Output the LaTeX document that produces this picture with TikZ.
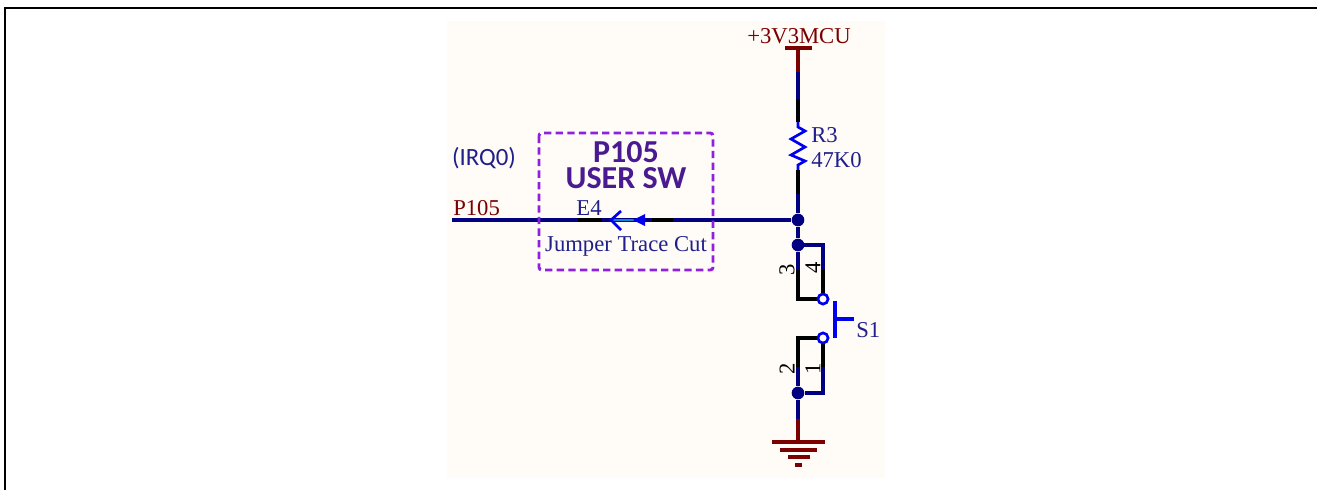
\documentclass[tikz,border=0pt]{standalone}
\usepackage{fontspec}
\setmainfont{Liberation Serif}
\newfontfamily\labelfont{Carlito}
\definecolor{bgcream}{HTML}{FFFBF6}
\definecolor{wireblue}{HTML}{000080}
\definecolor{pinblue}{HTML}{0000F0}
\definecolor{pwrred}{HTML}{7B0000}
\definecolor{boxpurple}{HTML}{9020E0}
\definecolor{txtblue}{HTML}{20208A}
\definecolor{titlepurple}{HTML}{4A1A90}
\tikzset{
  wire/.style={wireblue, line width=2.6pt},
  lead/.style={black, line width=2.6pt},
  pwr/.style={pwrred, line width=2.6pt},
  bar/.style={pwrred, line width=2.8pt},
  dot/.style={circle, fill=wireblue, inner sep=0pt, minimum size=9.5pt},
  pad/.style={circle, draw=pinblue, fill=bgcream, line width=1.9pt, inner sep=0pt, minimum size=7.5pt},
  pt/.style={inner sep=0pt, font=\fontsize{17}{17}\selectfont},
  pinnum/.style={pt, rotate=90, text=black},
}
\begin{document}
\begin{tikzpicture}[x=0.75pt, y=-0.75pt]
    \useasboundingbox (0,0) rectangle (1317,490);
    \draw[line width=1.5pt] (1317,8) -- (5,8) -- (5,490);
    \fill[bgcream] (447,21) rectangle (885,478);

    % named points along the net
    \coordinate (vcc) at (798,48);
    \coordinate (vccend) at (798,72);
    \coordinate (ra) at (798,99);
    \coordinate (rb) at (798,122);
    \coordinate (rc) at (798,170);
    \coordinate (rd) at (798,194);
    \node[dot] (j1) at (798,220) {};
    \node[dot] (j2) at (798,245) {};
    \coordinate (p3) at (798,270);
    \coordinate (c3) at (798,299);
    \coordinate (c4) at (823,245);
    \coordinate (p4) at (823,270);
    \node[pad] (sa) at (823,299) {};
    \node[pad] (sb) at (823,338) {};
    \coordinate (c2) at (798,338);
    \coordinate (p2) at (798,367);
    \coordinate (p1) at (823,367);
    \coordinate (c1) at (823,393);
    \node[dot] (j3) at (798,393) {};
    \coordinate (gnda) at (798,419);
    \coordinate (gnd) at (798,442);

    % vertical net
    \draw[pwr] (vcc) -- (vccend);
    \draw[pwrred, line width=3pt] (785,48) -- (812,48);
    \draw[wire] (vccend) -- (ra);
    \draw[lead] (ra) -- (rb);
    \draw[pinblue, line width=2pt] (rb) -- (798,127) -- (805,131) -- (791,139) -- (805,147) -- (791,155) -- (805,161) -- (798,165) -- (rc);
    \draw[lead] (rc) -- (rd);
    \draw[wire] (rd) -- (j1);
    \draw[wire] (j1) -- (j2);

    % switch
    \draw[wire] (j2) -- (p3);
    \draw[wire, line cap=rect] (j2) -- (c4) -- (p4);
    \draw[lead] (p3) -- (c3) -- (sa);
    \draw[lead] (p4) -- (sa);
    \draw[lead] (sb) -- (c2) -- (p2);
    \draw[lead] (sb) -- (p1);
    \draw[wire] (p2) -- (j3);
    \draw[wire] (p1) -- (c1) -- (j3);
    \node[pad] at (sa) {};
    \node[pad] at (sb) {};
    \draw[pinblue, line width=3pt] (835,301) -- (835,338);
    \draw[pinblue, line width=2.6pt] (835,319) -- (854,319);
    \node[pinnum] at (787,270) {3};
    \node[pinnum] at (813,268) {4};
    \node[pinnum] at (787,369) {2};
    \node[pinnum] at (813,369) {1};

    % ground
    \draw[wire] (j3) -- (gnda);
    \draw[pwr] (gnda) -- (gnd);
    \draw[bar] (772,442) -- (825,442);
    \draw[bar] (780,450) -- (817,450);
    \draw[bar] (788,457) -- (810,457);
    \draw[bar] (795,465) -- (802,465);

    % horizontal net and jumper
    \coordinate (left) at (452,220);
    \coordinate (ea) at (578,220);
    \coordinate (eb) at (602,220);
    \coordinate (ec) at (652,220);
    \coordinate (ed) at (673,220);
    \draw[wire] (left) -- (ea);
    \draw[lead] (ea) -- (eb);
    \draw[wire] (eb) -- (ec);
    \draw[lead] (ec) -- (ed);
    \draw[wire] (ed) -- (j1);
    \draw[cyan!70!blue, line width=1.2pt] (612,220) -- (634,220);
    \fill[pinblue] (633,220) -- (645,214) -- (645,226) -- cycle;
    \draw[pinblue, line width=2pt] (621,211) -- (611,220) -- (621,230);

    \draw[boxpurple, line width=2.2pt, dashed, dash pattern=on 5.5pt off 3.2pt, rounded corners=2pt] (539,133) rectangle (713,270);

    % labels
    \node[pt, text=pwrred] (vcclabel) at (799,36) {+3V3MCU};
    \node[pt, text=txtblue, anchor=west] (r3) at (811,135) {R3};
    \node[pt, text=txtblue, anchor=west] (r3val) at (811,160) {47K0};
    \node[pt, text=txtblue, anchor=west] (s1) at (856,330) {S1};
    \node[pt, text=pwrred, anchor=west] (netlabel) at (453,208) {P105};
    \node[pt, text=txtblue] (e4) at (589,208) {E4};
    \node[pt, text=txtblue] (cut) at (626,246) {Jumper Trace Cut};
    \node[inner sep=0pt, text=txtblue, font=\labelfont\fontsize{18.6}{18.6}\selectfont] (irq) at (484,158) {(IRQ0)};
    \node[inner sep=0pt, text=titlepurple, align=center, font=\labelfont\bfseries\fontsize{24}{19}\selectfont] (title) at (626,165) {P105\\USER SW};
\end{tikzpicture}
\end{document}
